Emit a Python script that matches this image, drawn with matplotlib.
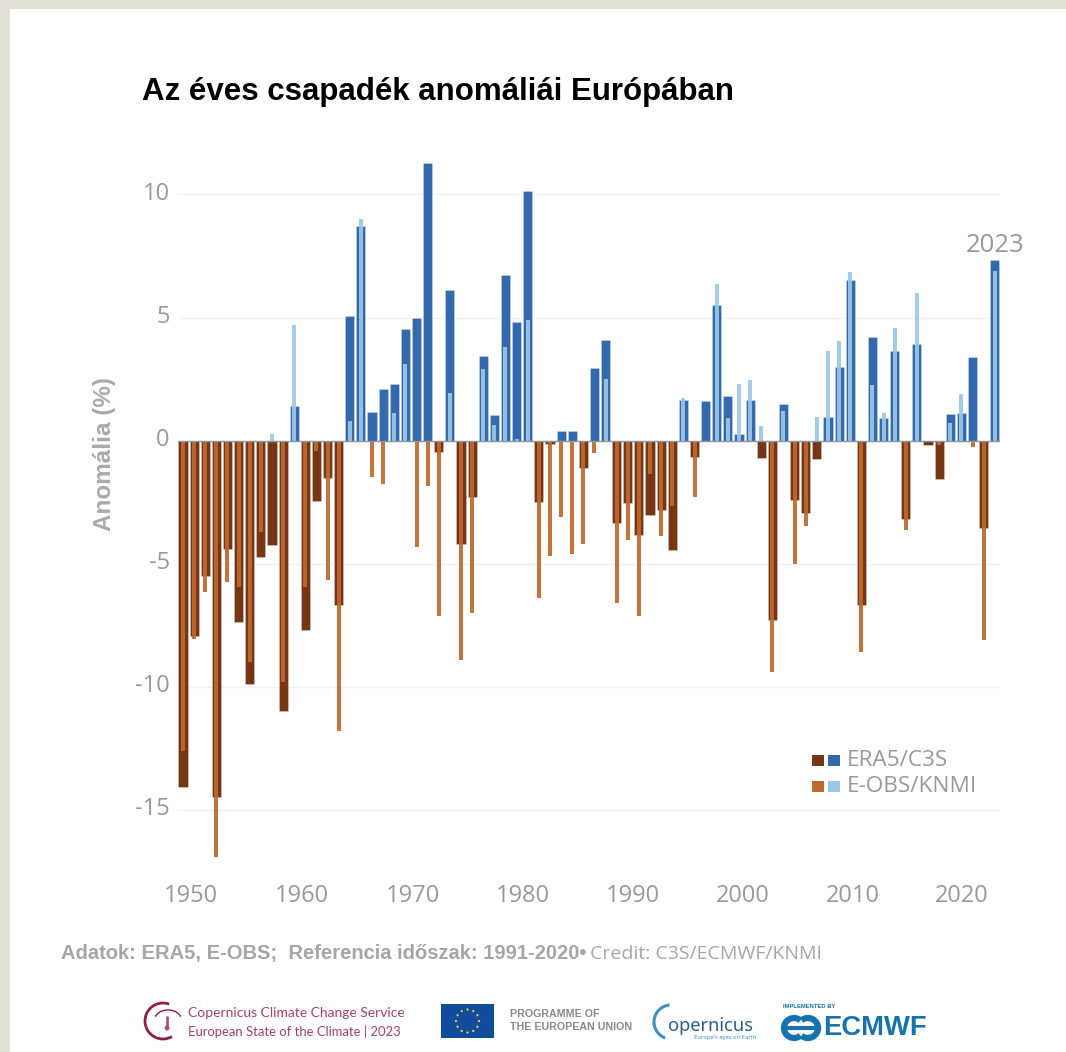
import numpy as np
import matplotlib
matplotlib.use('Agg')
import matplotlib.pyplot as plt
from matplotlib.patches import Rectangle, Arc, Circle
from matplotlib.transforms import ScaledTranslation

years = list(range(1950, 2024))

era5 = [-14.08, -7.94, -5.50, -14.49, -4.41, -7.37, -9.88, -4.74, -4.23, -11.00,
        1.42, -7.72, -2.46, -1.53, -6.69, 5.05, 8.72, 1.15, 2.08, 2.31,
        4.53, 4.98, 11.29, -0.47, 6.13, -4.19, -2.28, 3.42, 1.02, 6.73,
        4.82, 10.14, -2.50, -0.15, 0.38, 0.38, -1.13, 2.96, 4.07, -3.35,
        -2.55, -3.85, -3.03, -2.82, -4.46, 1.63, -0.66, 1.60, 5.50, 1.80,
        0.27, 1.64, -0.72, -7.31, 1.47, -2.40, -2.94, -0.77, 0.97, 2.98,
        6.53, -6.69, 4.22, 0.92, 3.62, -3.19, 3.91, -0.20, -1.58, 1.07,
        1.13, 3.41, -3.57, 7.35]

eobs = [-12.63, -8.07, -6.17, -16.95, -5.74, -5.94, -9.00, -3.70, 0.27, -9.80,
        4.68, -5.94, -0.41, -5.67, -11.80, 0.81, 9.00, -1.49, -1.76, 1.13,
        3.09, -4.31, -1.85, -7.12, 1.94, -8.93, -7.01, 2.92, 0.61, 3.80,
        0.05, 4.90, -6.42, -4.69, -3.09, -4.60, -4.20, -0.52, 2.48, -6.62,
        -4.06, -7.14, -1.37, -3.88, -2.66, 1.72, -2.31, -0.07, 6.38, 0.92,
        2.28, 2.47, 0.57, -9.41, 1.20, -5.03, -3.47, 0.97, 3.62, 4.03,
        6.84, -8.59, 2.24, 1.12, 4.59, -3.62, 5.99, -0.05, -0.20, 0.70,
        1.91, -0.25, -8.11, 6.90]

y_ticks = [-15, -10, -5, 0, 5, 10]
x_labels = ['1950', '1960', '1970', '1980', '1990', '2000', '2010', '2020']
# labels in the source sit a bit off the bars they name
x_tick_pos = [1950.72, 1960.7, 1970.65, 1980.55, 1990.45, 2000.35, 2010.2, 2020.0]

ERA_POS, ERA_NEG = '#3569ae', '#763514'
OBS_POS, OBS_NEG = '#9cc8e6', '#bd6a2c'
GREY = '#999999'
W, H = 1066, 1052

plt.rcParams['font.family'] = ['Open Sans', 'DejaVu Sans']

fig = plt.figure(figsize=(W / 100, H / 100), dpi=100, facecolor='#e4dfd3')

# page, in pixel coordinates
page = fig.add_axes([0, 0, 1, 1], zorder=0)
page.set_xlim(0, W)
page.set_ylim(H, 0)
page.axis('off')
page.add_patch(Rectangle((10, 9), W - 10, H - 9, fc='white', ec='none'))

# plot area spans x 178-1000 px, y 150-870 px, 0 at 440.5 px, 24.6 px per unit
ax_left, ax_right, ax_top, ax_bottom = 178, 1000, 150, 870
ax = fig.add_axes([ax_left / W, 1 - ax_bottom / H, (ax_right - ax_left) / W, (ax_bottom - ax_top) / H], zorder=1)
ax.patch.set_alpha(0)
ax.set_xlim(1950 + (ax_left - 183) / 11.12, 1950 + (ax_right - 183) / 11.12)
ax.set_ylim((440.5 - ax_bottom) / 24.6, (440.5 - ax_top) / 24.6)

ax.bar(years, era5, width=0.82, color=[ERA_POS if v > 0 else ERA_NEG for v in era5],
       edgecolor=(1, 1, 1, 0.35), linewidth=0.5, zorder=2)
ax.bar(years, eobs, width=0.36, color=[OBS_POS if v > 0 else OBS_NEG for v in eobs],
       linewidth=0, alpha=0.92, zorder=3)

ax.axhline(0, color='#8c97a3', lw=1.0, zorder=4)
ax.set_yticks(y_ticks)
ax.set_yticklabels([str(v) for v in y_ticks])
ax.set_xticks(x_tick_pos)
ax.set_xticklabels(x_labels)
ax.grid(axis='y', color='#f2f2f2', lw=1.0, zorder=0)
ax.grid(axis='x', visible=False)
ax.tick_params(axis='both', length=0, labelsize=17, labelcolor=GREY)
ax.tick_params(axis='y', pad=6)
ax.tick_params(axis='x', pad=10)
for s in ax.spines.values():
    s.set_visible(False)

# y labels sit slightly above their gridlines
lift = ScaledTranslation(0, 3.5 / 100, fig.dpi_scale_trans)
for lab in ax.get_yticklabels():
    lab.set_transform(lab.get_transform() + lift)

ax.text(2023, 7.42, '2023', ha='center', va='bottom', fontsize=18.5, color=GREY, zorder=5, clip_on=False)

page.text(142, 92, 'Az éves csapadék anomáliái Európában', family='Liberation Sans', weight='bold',
          fontsize=22.5, color='black', va='center', ha='left')
page.text(104, 454, 'Anomália (%)', family='Liberation Sans', weight='bold', fontsize=17.5,
          color='#aaaaaa', rotation=90, va='center', ha='center')

# legend
for y, left, right, label in [(755, ERA_NEG, ERA_POS, 'ERA5/C3S'), (781, OBS_NEG, OBS_POS, 'E-OBS/KNMI')]:
    page.add_patch(Rectangle((812, y), 12, 11, fc=left, ec='none'))
    page.add_patch(Rectangle((828, y), 12, 11, fc=right, ec='none'))
    page.text(847, y + 5, label, fontsize=16.2, color=GREY, va='center', ha='left')

# source line
page.text(61, 954, 'Adatok: ERA5, E-OBS;  Referencia időszak: 1991-2020•', family='Liberation Sans',
          weight='bold', fontsize=14.5, color='#a6a6a6', va='center', ha='left')
page.text(590, 954, 'Credit: C3S/ECMWF/KNMI', fontsize=14, color='#a6a6a6', va='center', ha='left')

# C3S logo
MAROON = '#a8415f'
page.add_patch(Arc((163, 1021), 36, 36, theta1=60, theta2=290, color='#8e1f3f', lw=2))
page.add_patch(Arc((168, 1019), 26, 18, theta1=190, theta2=350, color='#8e1f3f', lw=1))
page.plot([167, 167], [1017, 1027], color='#b5506e', lw=2, solid_capstyle='round')
page.add_patch(Circle((167, 1028), 2.5, fc='#b5506e', ec='none'))
page.text(188, 1013, 'Copernicus Climate Change Service', family='Lato', fontsize=10, color=MAROON, va='center')
page.text(188, 1031, 'European State of the Climate | 2023', family='Lato', fontsize=9.4, color=MAROON, va='center')

# EU flag
page.add_patch(Rectangle((441, 1004), 53, 34, fc='#0f4c9c', ec='none'))
for a in np.arange(12) * np.pi / 6:
    page.add_patch(Circle((467.5 + 11.5 * np.cos(a), 1021 + 11.5 * np.sin(a)), 1.1, fc='#f2d43a', ec='none'))
page.text(510, 1014, 'PROGRAMME OF', family='Liberation Sans', weight='bold', fontsize=7.7, color='#8a8a8a', va='center')
page.text(510, 1027, 'THE EUROPEAN UNION', family='Liberation Sans', weight='bold', fontsize=7.7, color='#8a8a8a', va='center')

# Copernicus logo
page.add_patch(Arc((671, 1022), 34, 34, theta1=110, theta2=265, color='#3f8ec4', lw=2.2))
page.text(668, 1026, 'opernicus', family='Noto Sans', fontsize=13.2, color='#2f5f8f', va='center', ha='left')
page.text(694, 1038, "Europe's eyes on Earth", family='Noto Sans', fontsize=4.2, color='#3f8ec4', va='center', ha='left')

# ECMWF logo
BLUE = '#1673ad'
page.text(783, 1007, 'IMPLEMENTED BY', family='Liberation Sans', weight='bold', fontsize=4.2, color=BLUE, va='center')
page.add_patch(Arc((794, 1028), 20, 20, theta1=50, theta2=310, color=BLUE, lw=4.5))
page.add_patch(Arc((808, 1028), 20, 20, theta1=-130, theta2=130, color=BLUE, lw=4.5))
page.plot([786, 816], [1028, 1028], color=BLUE, lw=3)
page.text(823, 1028, 'ECMWF', family='Liberation Sans', weight='bold', fontsize=19.7, color=BLUE, va='center', ha='left')

fig.savefig('out.png', dpi=100, facecolor=fig.get_facecolor())
